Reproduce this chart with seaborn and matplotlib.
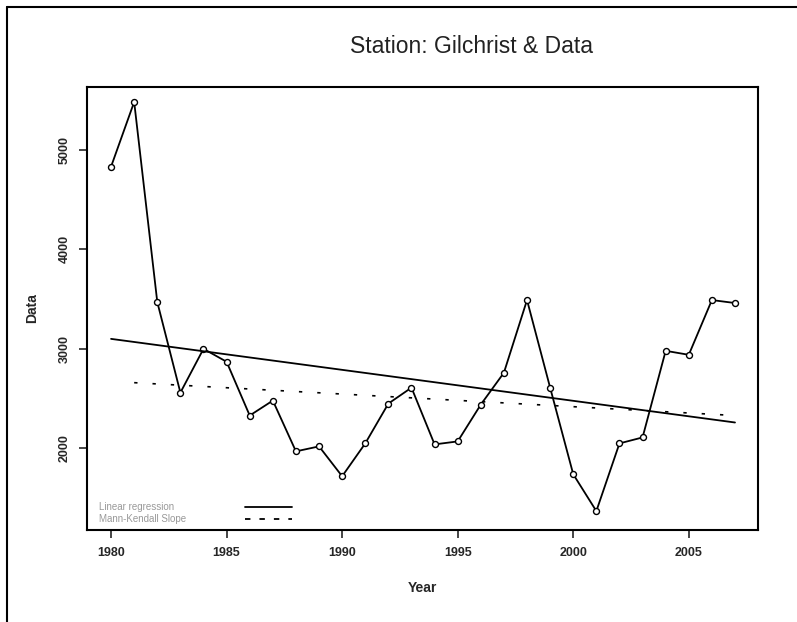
import numpy as np
import pandas as pd
import seaborn as sns
import matplotlib.pyplot as plt
from matplotlib.lines import Line2D

years = list(range(1980, 2008))
values = [4830, 5480, 3470, 2560, 3000, 2870, 2330, 2480, 1970, 2020,
          1720, 2050, 2450, 2610, 2040, 2070, 2440, 2760, 3490, 2610,
          1740, 1370, 2050, 2110, 2980, 2940, 3490, 3460]

# end points of the fitted trend lines
trend_years = [1980, 2007]
linreg_values = [3100, 2260]
mk_years = [1981, 2007]
mk_values = [2660, 2330]

y_ticks = [2000, 3000, 4000, 5000]
x_ticks = [1980, 1985, 1990, 1995, 2000, 2005]

sns.set_style("white")
plt.rcParams['font.family'] = ['Liberation Sans', 'DejaVu Sans']

df = pd.DataFrame({"Year": years, "Data": values})
lr = pd.DataFrame({"Year": trend_years, "Data": linreg_values})
mk = pd.DataFrame({"Year": mk_years, "Data": mk_values})

fig = plt.figure(figsize=(7.97, 6.22), dpi=100)
ax = fig.add_axes([0.1092, 0.1479, 0.842, 0.7122])

sns.lineplot(ax=ax, data=df, x="Year", y="Data", color="black", lw=1.3,
             marker="o", markersize=4.3, markerfacecolor="white",
             markeredgecolor="black", markeredgewidth=1)
sns.lineplot(ax=ax, data=lr, x="Year", y="Data", color="black", lw=1.3)
sns.lineplot(ax=ax, data=mk, x="Year", y="Data", color="black", lw=1.2,
             linestyle=(0, (2, 9)))

ax.set_xlim(1978.96, 2008.0)
ax.set_ylim(1180, 5630)
ax.set_xticks(x_ticks)
ax.set_yticks(y_ticks)
ax.set_xticklabels([str(t) for t in x_ticks], fontsize=9, fontweight="bold")
ax.set_yticklabels([str(t) for t in y_ticks], fontsize=9, fontweight="bold",
                   rotation=90, va="center")
ax.tick_params(axis="both", direction="out", length=6, width=1.2,
               bottom=True, left=True, pad=6)
for s in ax.spines.values():
    s.set_linewidth(1.5)
    s.set_color("black")

ax.set_xlabel("Year", fontsize=10, fontweight="bold")
ax.set_ylabel("Data", fontsize=10, fontweight="bold", labelpad=14)
ax.xaxis.set_label_coords(0.5, -0.115)

fig.text(0.592, 0.925, "Station: Gilchrist & Data", fontsize=16.5, ha="center",
         va="center", color="#222222")

# legend drawn in the lower left corner of the plot
ax.text(0.018, 0.052, "Linear regression", transform=ax.transAxes,
        fontsize=7, color="#999999", va="center")
ax.text(0.018, 0.025, "Mann-Kendall Slope", transform=ax.transAxes,
        fontsize=7, color="#999999", va="center")
ax.add_line(Line2D([0.236, 0.306], [0.052, 0.052], transform=ax.transAxes,
                   color="black", lw=1.3))
ax.add_line(Line2D([0.236, 0.306], [0.025, 0.025], transform=ax.transAxes,
                   color="black", lw=1.3, linestyle=(0, (3, 5))))

# outer frame of the original export
fig.add_artist(Line2D([7 / 797, 7 / 797], [0, 1 - 7 / 622], transform=fig.transFigure,
                      color="black", lw=1.5))
fig.add_artist(Line2D([7 / 797, 1], [1 - 7 / 622, 1 - 7 / 622], transform=fig.transFigure,
                      color="black", lw=1.5))

fig.savefig("out.png", dpi=100)
